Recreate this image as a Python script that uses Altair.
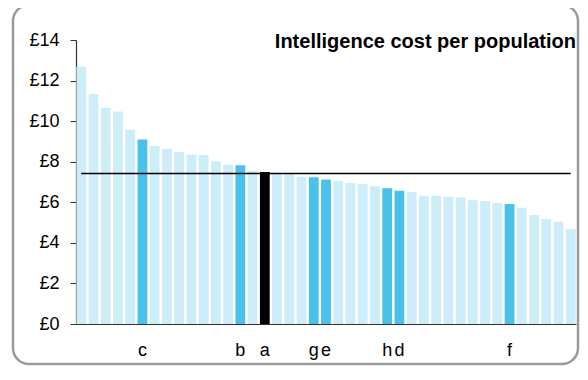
import altair as alt
import pandas as pd

values = [12.68, 11.34, 10.66, 10.48, 9.58, 9.09, 8.77, 8.64, 8.48, 8.36,
          8.33, 8.02, 7.85, 7.82, 7.56, 7.49, 7.41, 7.39, 7.26, 7.23,
          7.12, 7.06, 6.95, 6.90, 6.79, 6.69, 6.57, 6.51, 6.32, 6.32,
          6.27, 6.24, 6.10, 6.06, 5.96, 5.91, 5.73, 5.37, 5.17, 5.04, 4.68]
letters = ["", "", "", "", "", "c", "", "", "", "",
           "", "", "", "b", "", "a", "", "", "", "g",
           "e", "", "", "", "", "h", "d", "", "", "",
           "", "", "", "", "", "f", "", "", "", "", ""]
kinds = ["other"] * 41
for i, l in enumerate(letters):
    if l == "a":
        kinds[i] = "self"
    elif l:
        kinds[i] = "peer"
average = 7.42
y_ticks = [0, 2, 4, 6, 8, 10, 12, 14]
title_text = "Intelligence cost per population"

ids = [f"p{i:02d}" for i in range(len(values))]
df = pd.DataFrame({"id": ids, "value": values, "label": letters, "kind": kinds})
avg_df = pd.DataFrame({"id": [ids[0], ids[-1]], "value": [average, average]})
one = pd.DataFrame({"t": [title_text]})

W, H = 500, 284
FONT = "Liberation Sans"

label_map = "{" + ",".join(f"'{i}':'{l}'" for i, l in zip(ids, letters)) + "}"

x_enc = alt.X("id:N", sort=ids,
              scale=alt.Scale(paddingInner=0.2, paddingOuter=0.03),
              axis=alt.Axis(title=None, ticks=False, labelAngle=0,
                            labelExpr=f"{label_map}[datum.value]",
                            labelFont=FONT, labelFontSize=18, labelColor="#000",
                            labelPadding=17, domainColor="#333", domainWidth=1.2))
y_scale = alt.Scale(domain=[0, 14], nice=False)

bars = alt.Chart(df).mark_bar().encode(
    x=x_enc,
    y=alt.Y("value:Q", scale=y_scale,
            axis=alt.Axis(title=None, values=y_ticks, labelExpr="'£' + datum.value",
                          labelFont=FONT, labelFontSize=18, labelColor="#000",
                          labelPadding=11, tickSize=6, tickColor="#333",
                          domainColor="#333", domainWidth=1.2, grid=False)),
    color=alt.Color("kind:N", legend=None,
                    scale=alt.Scale(domain=["other", "peer", "self"],
                                    range=["#CDEDF9", "#49C1EA", "#000000"])),
)

avg_line = alt.Chart(avg_df).mark_line(color="#000", strokeWidth=1.5).encode(
    x=alt.X("id:N", sort=ids),
    y=alt.Y("value:Q", scale=y_scale),
)

title = alt.Chart(one).mark_text(align="right", baseline="alphabetic", font=FONT,
                                 fontSize=20, fontWeight="bold", color="#000").encode(
    x=alt.value(W), y=alt.value(8), text="t:N")

frame = alt.Chart(one).mark_rect(filled=False, stroke="#9a9a9a", strokeWidth=2.5,
                                 cornerRadius=16, clip=False).encode(
    x=alt.value(-63), x2=alt.value(W + 2), y=alt.value(-35), y2=alt.value(H + 40))

chart = alt.layer(frame, bars, avg_line, title).properties(
    width=W, height=H,
    autosize=alt.AutoSizeParams(type="none"),
    padding={"left": 68, "top": 32, "right": 4, "bottom": 42},
).configure_view(stroke=None)

chart.save("out.html", embed_options={"renderer": "svg", "actions": False})
